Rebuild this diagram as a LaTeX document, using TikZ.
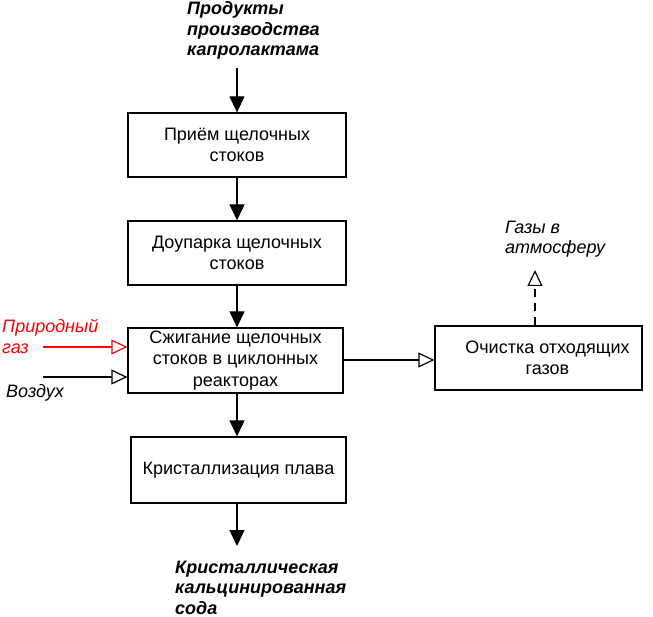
\documentclass[tikz,border=0pt]{standalone}
\usepackage{fontspec}
\setmainfont{Liberation Sans}
\usetikzlibrary{arrows.meta}
\tikzset{
  procbox/.style={draw, line width=1.3pt, inner sep=0pt, align=center, font=\fontsize{18}{21.5}\selectfont},
  boxtext/.style={inner sep=0pt, align=center, font=\fontsize{18}{21.5}\selectfont},
  flow/.style={line width=1.3pt, -{Triangle[length=16pt,width=15pt]}},
  openflow/.style={line width=1.3pt, -{Triangle[open,length=16pt,width=15pt,line width=1.2pt]}},
  lbl/.style={align=left, inner sep=0pt, anchor=base west, font=\fontsize{18}{20.5}\selectfont\itshape},
  blbl/.style={lbl, font=\fontsize{18}{20.5}\selectfont\bfseries\itshape},
}
\begin{document}
\begin{tikzpicture}[x=1pt,y=-1pt]
\useasboundingbox (0,0) rectangle (653,617);
\node[procbox, minimum width=218pt, minimum height=64pt] (b1) at (237,145) {Приём щелочных\\стоков};
\node[procbox, minimum width=218pt, minimum height=64pt] (b2) at (237,253) {Доупарка щелочных\\стоков};
\node[procbox, minimum width=215pt, minimum height=65pt] (b3) at (235.5,360.5) {Сжигание щелочных\\стоков в циклонных\\реакторах};
\node[procbox, minimum width=215pt, minimum height=66pt] (b4) at (238.5,470) {Кристаллизация плава};
\node[procbox, minimum width=207pt, minimum height=64pt] (b5) at (538.5,358) {};
\node[boxtext] (b5t) at ([xshift=9pt]b5.center) {Очистка отходящих\\газов};

\node[blbl] (top) at (187,56) {Продукты\\производства\\капролактама};
\node[blbl] (bot) at (175,614) {Кристаллическая\\кальцинированная\\сода};
\node[lbl] (gas) at (505,254) {Газы в\\атмосферу};
\node[lbl, text=red] (ng) at (2,353) {Природный\\газ};
\node[lbl] (air) at (6,397) {Воздух};

\coordinate (topstart) at (237,68);
\coordinate (botend) at (237,546);
\coordinate (ngstart) at (43,347);
\coordinate (airstart) at (43,377);
\coordinate (gasend) at (535,270);

\draw[flow] (topstart) -- (topstart |- b1.north);
\draw[flow] (b1.south -| 237,0) -- (b2.north -| 237,0);
\draw[flow] (b2.south -| 237,0) -- (b3.north -| 237,0);
\draw[flow] (b3.south -| 237,0) -- (b4.north -| 237,0);
\draw[flow] (b4.south -| 237,0) -- (botend);
\draw[openflow, red] (ngstart) -- (ngstart -| b3.west);
\draw[openflow] (airstart) -- (airstart -| b3.west);
\draw[openflow] (b3.east |- 0,360) -- (b5.west |- 0,360);
\draw[openflow, dash pattern=on 8pt off 6pt] (b5.north -| gasend) -- (gasend);
\end{tikzpicture}
\end{document}
